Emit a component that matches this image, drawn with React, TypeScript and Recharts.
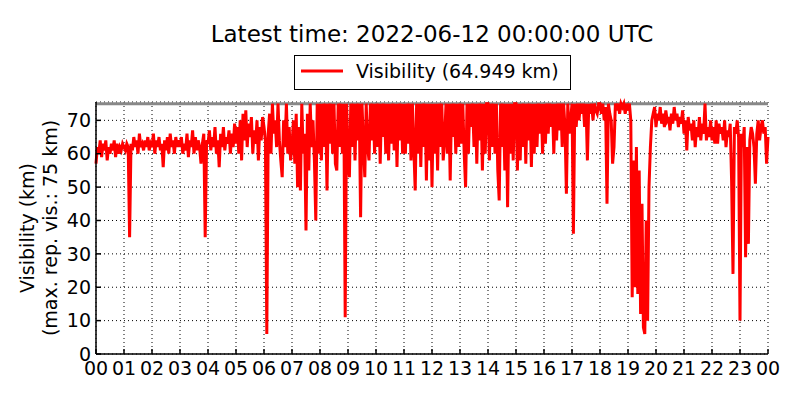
import React from 'react';
import { LineChart, Line, XAxis, YAxis, CartesianGrid, ReferenceLine } from 'recharts';

// visibility in km, one value every 3 minutes (20 per hour)
const visNight = [
  57, 62, 60, 64, 59, 63, 61, 64, 58, 62, 60, 63, 61, 64, 59, 63, 60, 62, 61, 63,
  62, 61, 63, 62, 35, 63, 61, 65, 62, 64, 60, 66, 62, 63, 61, 64, 62, 65, 61, 63,
  62, 66, 60, 64, 62, 65, 61, 63, 56, 64, 61, 65, 60, 66, 62, 64, 60, 65, 62, 64,
  62, 65, 60, 63, 61, 66, 59, 64, 62, 67, 60, 65, 61, 64, 62, 57, 63, 66, 35, 64,
  63, 67, 61, 65, 62, 68, 60, 64, 56, 66, 62, 68, 61, 65, 63, 67, 60, 66, 62, 69,
  63, 68, 60, 70, 58, 72, 64, 73, 62, 69, 65, 71, 60, 67, 63, 70, 58, 68, 64, 71,
];
const visMorning = [
  68, 64, 6, 66, 72, 60, 75, 66, 70, 62, 75, 64, 58, 53, 70, 62, 75, 60, 68, 58,
  62, 70, 57, 72, 50, 68, 49, 75, 60, 66, 37, 72, 55, 75, 62, 70, 58, 40, 75, 60,
  75, 58, 75, 62, 75, 49, 75, 63, 75, 60, 75, 57, 55, 75, 62, 75, 60, 75, 11, 75,
  60, 53, 75, 62, 75, 58, 75, 64, 75, 41, 75, 63, 53, 75, 62, 58, 75, 64, 75, 60,
  75, 62, 75, 57, 75, 65, 75, 60, 75, 58, 75, 63, 75, 61, 75, 56, 75, 64, 75, 60,
  75, 60, 75, 63, 75, 58, 75, 62, 49, 75, 60, 75, 56, 75, 62, 75, 52, 75, 58, 75,
];
const visAfternoon = [
  50, 75, 60, 75, 55, 75, 62, 75, 58, 64, 75, 60, 75, 52, 75, 65, 75, 60, 75, 62,
  75, 63, 75, 60, 50, 75, 60, 75, 68, 75, 62, 75, 57, 75, 64, 75, 55, 75, 60, 75,
  75, 58, 75, 62, 75, 60, 75, 55, 46, 75, 62, 75, 55, 75, 44, 75, 60, 75, 58, 75,
  75, 55, 75, 58, 75, 62, 75, 57, 75, 64, 75, 56, 75, 60, 75, 62, 75, 66, 75, 60,
  75, 63, 75, 66, 75, 68, 75, 60, 75, 64, 75, 67, 75, 62, 75, 68, 48, 75, 66, 70,
  75, 36, 75, 68, 75, 70, 75, 72, 75, 68, 75, 58, 75, 72, 75, 70, 75, 73, 72, 75,
];
const visEvening = [
  75, 72, 75, 70, 74, 45, 75, 72, 70, 57, 62, 75, 73, 75, 72, 75, 74, 75, 72, 75,
  73, 75, 70, 17, 58, 20, 62, 18, 55, 12, 45, 8, 6, 40, 10, 50, 62, 70, 72, 74,
  68, 72, 70, 74, 69, 72, 68, 73, 70, 71, 67, 72, 69, 74, 70, 72, 68, 71, 69, 73,
  66, 70, 61, 71, 67, 69, 64, 70, 62, 68, 65, 71, 64, 69, 66, 75, 64, 68, 65, 70,
  64, 68, 63, 70, 63, 69, 66, 68, 64, 70, 62, 67, 65, 69, 52, 24, 68, 66, 70, 65,
  10, 66, 62, 68, 29, 62, 33, 64, 68, 66, 62, 51, 66, 70, 64, 68, 70, 66, 68, 57,
  65,
];

const hourTicks = Array.from({ length: 25 }, (_, i) => i);
const visTicks = [0, 10, 20, 30, 40, 50, 60, 70];
const maxReported = 75;
const latest = '64.949';

const data = [...visNight, ...visMorning, ...visAfternoon, ...visEvening].map((v, i) => ({
  hour: i / 20,
  vis: v,
}));

const FONT = 'DejaVu Sans, sans-serif';
const fmtHour = (h: number) => String(h % 24).padStart(2, '0');

const YLabel = ({ viewBox }: any) => {
  const cy = viewBox.y + viewBox.height / 2;
  return (
    <g fontFamily={FONT} fontSize={19} fill="#000">
      <text x={27} y={cy} transform={`rotate(-90, 27, ${cy})`} textAnchor="middle" dominantBaseline="central">
        Visibility (km)
      </text>
      <text x={50} y={cy} transform={`rotate(-90, 50, ${cy})`} textAnchor="middle" dominantBaseline="central">
        (max. rep. vis.: {maxReported} km)
      </text>
    </g>
  );
};

export default function App() {
  return (
    <div style={{ position: 'absolute', left: 0, top: 0, width: 800, height: 400, background: '#fff' }}>
      <LineChart
        width={800}
        height={400}
        data={data}
        margin={{ top: 102, right: 32, bottom: 0, left: 0 }}
      >
        <CartesianGrid stroke="#000" strokeDasharray="1 3" strokeWidth={1} />
        <XAxis
          dataKey="hour"
          type="number"
          domain={[0, 24]}
          ticks={hourTicks}
          interval={0}
          height={46}
          tickFormatter={fmtHour}
          tickSize={-5}
          tickMargin={13}
          stroke="#000"
          strokeWidth={1.5}
          tick={{ fill: '#000', fontSize: 19, fontFamily: FONT }}
        />
        <XAxis
          xAxisId="top"
          orientation="top"
          type="number"
          domain={[0, 24]}
          ticks={hourTicks}
          interval={0}
          height={0}
          tick={false}
          tickSize={-5}
          stroke="#000"
          strokeWidth={1.5}
        />
        <YAxis
          type="number"
          domain={[0, 75.5]}
          ticks={visTicks}
          interval={0}
          width={96}
          tickSize={-5}
          tickMargin={10}
          stroke="#000"
          strokeWidth={1.5}
          tick={{ fill: '#000', fontSize: 19, fontFamily: FONT }}
          label={<YLabel />}
        />
        <YAxis
          yAxisId="right"
          orientation="right"
          type="number"
          domain={[0, 75.5]}
          ticks={visTicks}
          interval={0}
          width={0}
          tick={false}
          tickSize={-5}
          stroke="#000"
          strokeWidth={1.5}
        />
        <ReferenceLine y={maxReported} stroke="#888" strokeWidth={3} />
        <Line
          type="linear"
          dataKey="vis"
          stroke="#ff0000"
          strokeWidth={3}
          dot={false}
          isAnimationActive={false}
        />
      </LineChart>
      <svg width={800} height={100} style={{ position: 'absolute', left: 0, top: 0 }}>
        <text x={432} y={42} textAnchor="middle" fontFamily={FONT} fontSize={23} fill="#000">
          Latest time: 2022-06-12 00:00:00 UTC
        </text>
        <rect x={294.5} y={55.5} width={276} height={34} fill="#fff" stroke="#000" strokeWidth={1} />
        <line x1={301} x2={343} y1={71} y2={71} stroke="#ff0000" strokeWidth={3} />
        <text x={356} y={78} fontFamily={FONT} fontSize={19} fill="#000">
          Visibility ({latest} km)
        </text>
      </svg>
    </div>
  );
}
